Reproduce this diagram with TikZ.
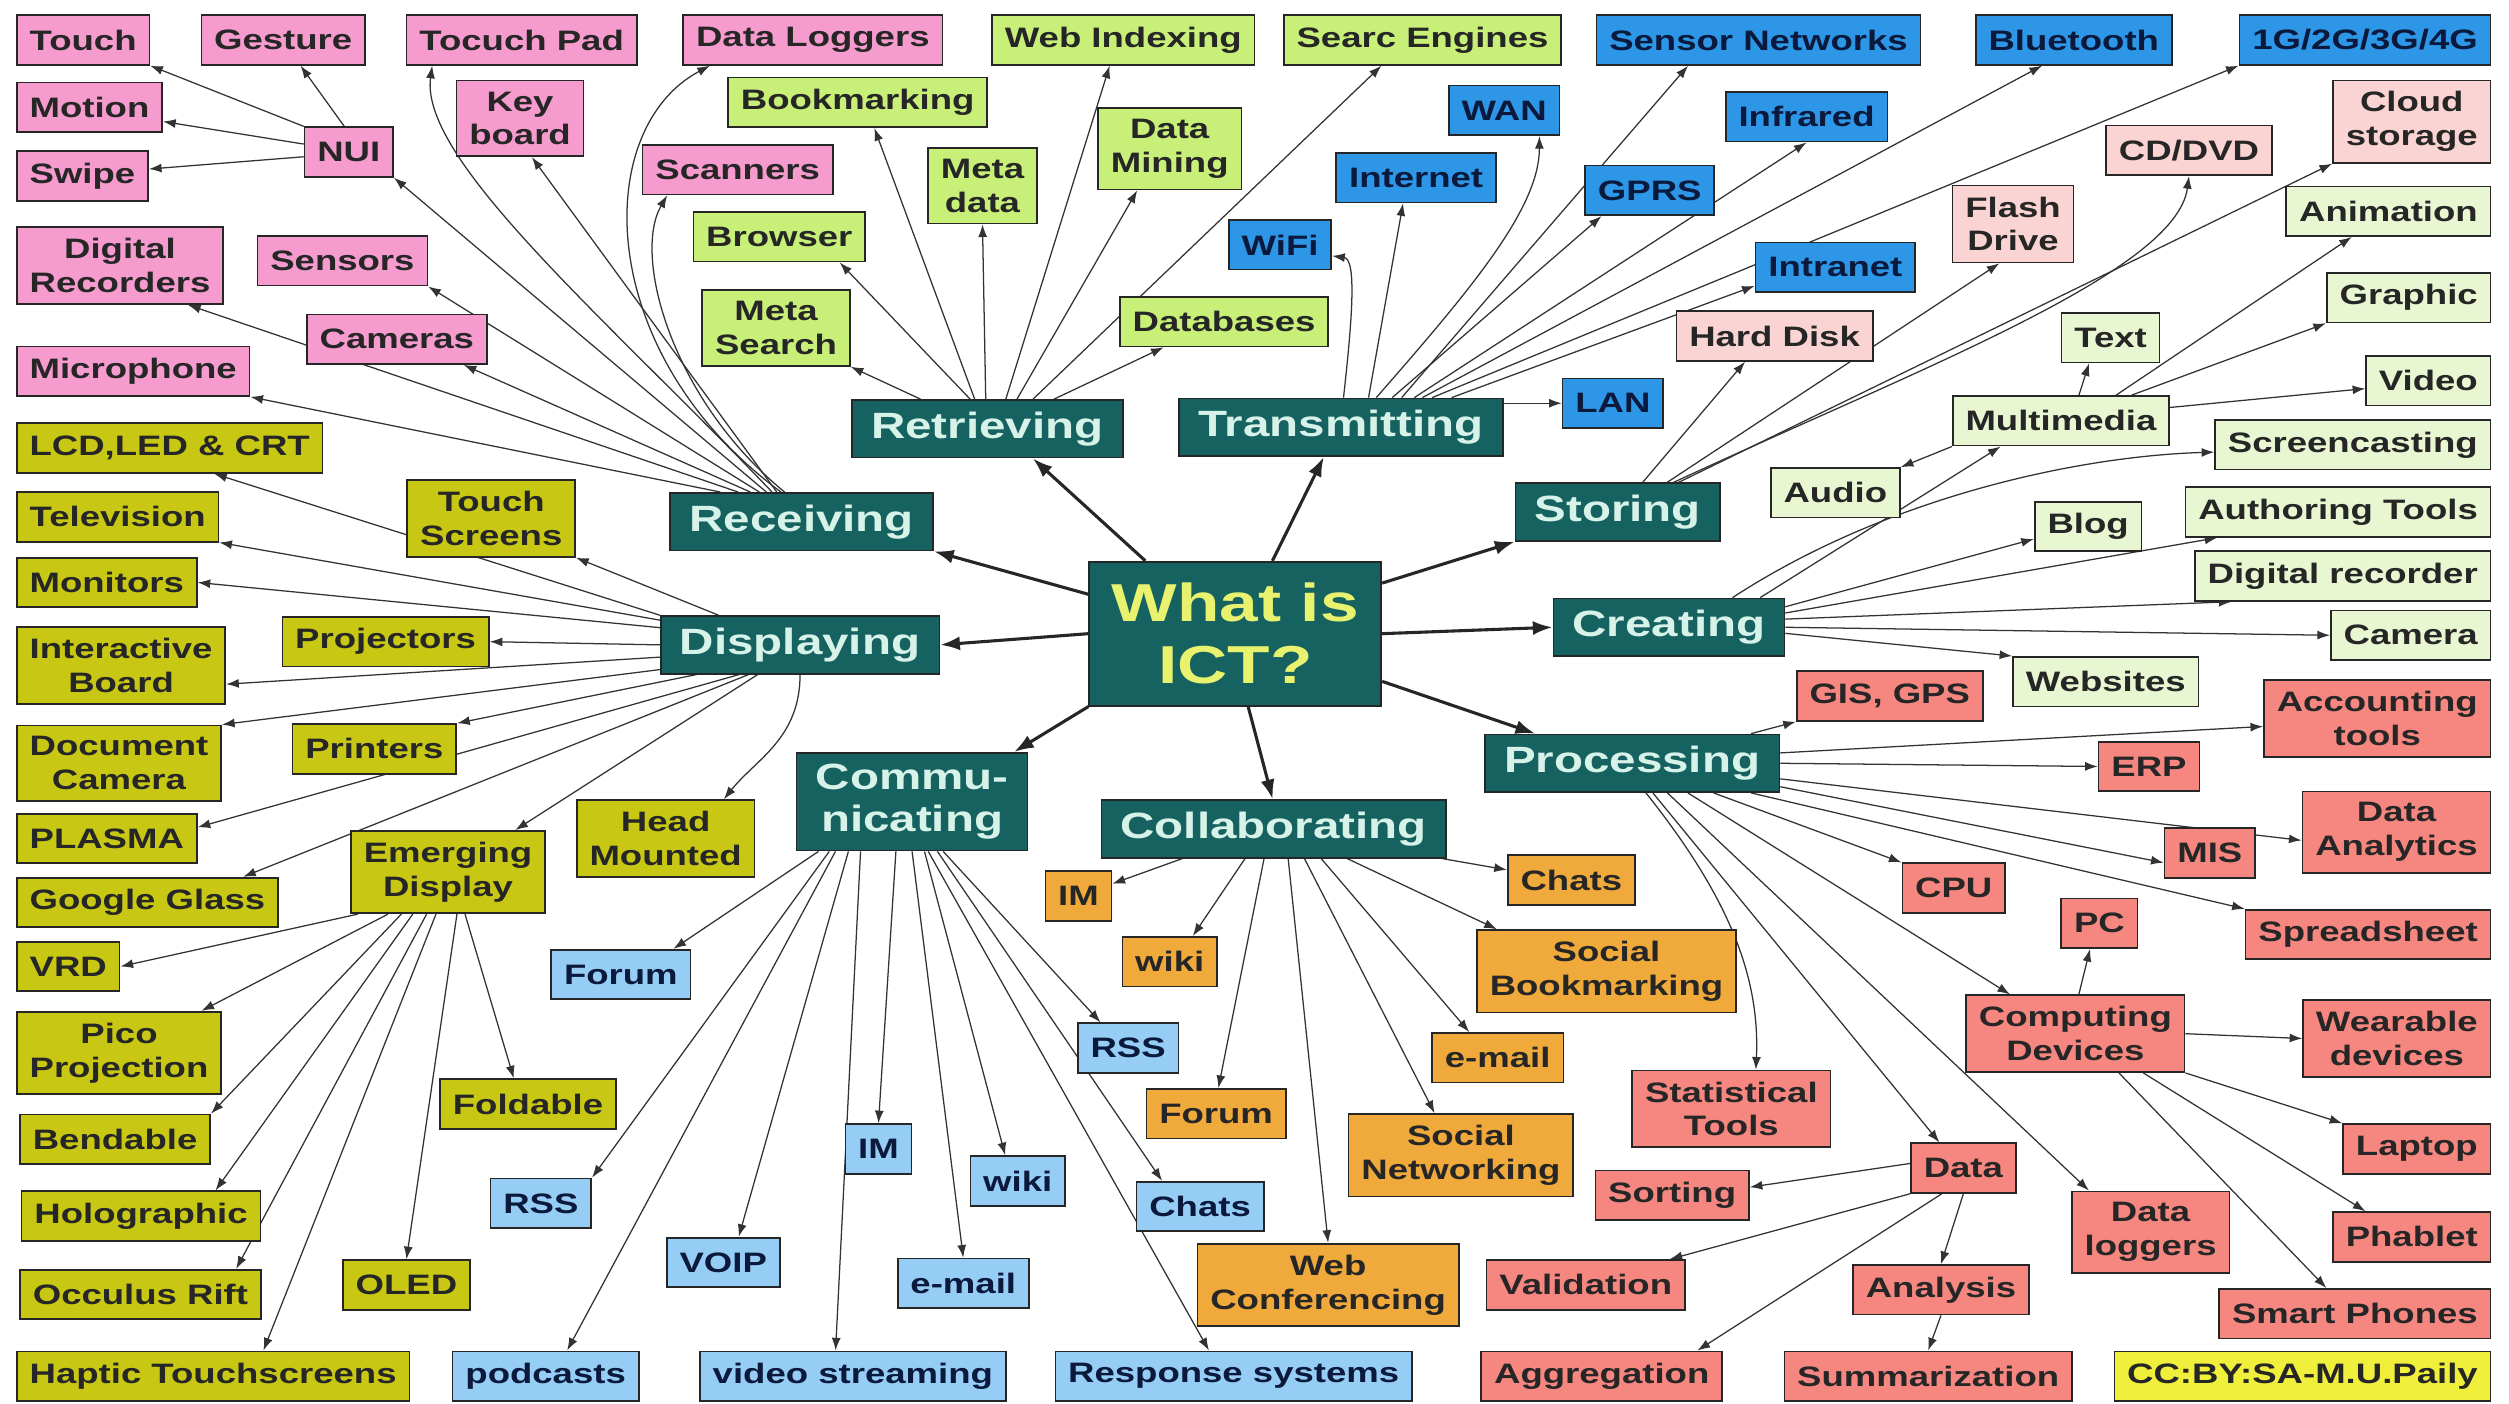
\documentclass[tikz,border=0pt]{standalone}
\usepackage{fontspec}
\setmainfont{Liberation Sans}[FakeStretch=1.3]
\usetikzlibrary{arrows.meta, backgrounds}

\definecolor{hubteal}{RGB}{22,98,96}
\definecolor{hubtext}{RGB}{215,242,232}
\definecolor{icttext}{RGB}{232,242,110}
\definecolor{rcvpink}{RGB}{245,155,205}
\definecolor{retgreen}{RGB}{200,240,120}
\definecolor{trsblue}{RGB}{45,150,230}
\definecolor{stopink}{RGB}{250,212,210}
\definecolor{crepale}{RGB}{232,246,210}
\definecolor{prosalmon}{RGB}{245,135,128}
\definecolor{disolive}{RGB}{200,200,20}
\definecolor{comsky}{RGB}{150,205,245}
\definecolor{colorange}{RGB}{240,170,60}
\definecolor{ccyellow}{RGB}{240,240,60}

\tikzset{
  box/.style={draw=black!85, line width=0.6pt, minimum height=6.2mm,
    inner xsep=1.6mm, inner ysep=1.4mm, align=center, text=black!85,
    font=\bfseries\fontsize{10}{12}\selectfont},
  catbox/.style={box, fill=hubteal, text=hubtext, inner xsep=2.4mm,
    minimum height=7.2mm, font=\bfseries\fontsize{13}{15}\selectfont},
  ictbox/.style={box, fill=hubteal, text=icttext, minimum width=36.5mm,
    minimum height=18mm, font=\bfseries\fontsize{19}{22}\selectfont},
  rcvbox/.style={box, fill=rcvpink},
  retbox/.style={box, fill=retgreen},
  trsbox/.style={box, fill=trsblue, text={rgb,255:red,10;green,25;blue,60}},
  stobox/.style={box, fill=stopink},
  crebox/.style={box, fill=crepale},
  probox/.style={box, fill=prosalmon},
  disbox/.style={box, fill=disolive},
  combox/.style={box, fill=comsky, text={rgb,255:red,10;green,25;blue,60}},
  colbox/.style={box, fill=colorange},
  link/.style={-{Latex[length=4.5pt,width=3.2pt]}, line width=0.45pt, draw=black!80},
  hub/.style={-{Latex[length=7pt,width=5pt]}, line width=1.1pt, draw=black!85},
}

\begin{document}
\begin{tikzpicture}[x=0.02cm, y=-0.02cm]
  \useasboundingbox (0,0) rectangle (1568,877);

  % centre
  \node[ictbox] (ict) at (772,396) {What is\\ICT?};

  % Receiving
  \node[catbox] (receiving) at (501,326) {Receiving};
  \node[rcvbox, anchor=west] (touch) at (10,25) {Touch};
  \node[rcvbox] (gesture) at (177,25) {Gesture};
  \node[rcvbox] (tpad) at (326,25) {Tocuch Pad};
  \node[rcvbox] (dloggers) at (508,25) {Data Loggers};
  \node[rcvbox, anchor=west] (motion) at (10,67) {Motion};
  \node[rcvbox] (nui) at (218,95) {NUI};
  \node[rcvbox] (keyboard) at (325,74) {Key\\board};
  \node[rcvbox, anchor=west] (swipe) at (10,110) {Swipe};
  \node[rcvbox] (scanners) at (461,106) {Scanners};
  \node[rcvbox, anchor=west] (digrec) at (10,166) {Digital\\Recorders};
  \node[rcvbox] (sensors) at (214,163) {Sensors};
  \node[rcvbox] (cameras) at (248,212) {Cameras};
  \node[rcvbox, anchor=west] (microphone) at (10,232) {Microphone};

  % Retrieving
  \node[catbox] (retrieving) at (617,268) {Retrieving};
  \node[retbox] (bookmarking) at (536,64) {Bookmarking};
  \node[retbox] (webidx) at (702,25) {Web Indexing};
  \node[retbox] (searc) at (889,25) {Searc Engines};
  \node[retbox] (metadata) at (614,116) {Meta\\data};
  \node[retbox] (datamining) at (731,93) {Data\\Mining};
  \node[retbox] (browser) at (487,148) {Browser};
  \node[retbox] (metasearch) at (485,205) {Meta\\Search};
  \node[retbox] (databases) at (765,201) {Databases};

  % Transmitting
  \node[catbox] (transmitting) at (838,267) {Transmitting};
  \node[trsbox] (sensornet) at (1099,25) {Sensor Networks};
  \node[trsbox] (bluetooth) at (1296,25) {Bluetooth};
  \node[trsbox, anchor=east] (gnet) at (1557,25) {1G/2G/3G/4G};
  \node[trsbox] (wan) at (940,69) {WAN};
  \node[trsbox] (infrared) at (1129,73) {Infrared};
  \node[trsbox] (internet) at (885,111) {Internet};
  \node[trsbox] (gprs) at (1031,119) {GPRS};
  \node[trsbox] (wifi) at (800,153) {WiFi};
  \node[trsbox] (intranet) at (1147,167) {Intranet};
  \node[trsbox] (lan) at (1008,252) {LAN};

  % Storing
  \node[catbox] (storing) at (1011,320) {Storing};
  \node[stobox] (harddisk) at (1109,210) {Hard Disk};
  \node[stobox] (flash) at (1258,140) {Flash\\Drive};
  \node[stobox] (cddvd) at (1368,94) {CD/DVD};
  \node[stobox, anchor=east] (cloud) at (1557,76) {Cloud\\storage};

  % Creating
  \node[catbox] (creating) at (1043,392) {Creating};
  \node[crebox, anchor=east] (animation) at (1557,132) {Animation};
  \node[crebox, anchor=east] (graphic) at (1557,186) {Graphic};
  \node[crebox] (txt) at (1319,211) {Text};
  \node[crebox] (multimedia) at (1288,263) {Multimedia};
  \node[crebox, anchor=east] (video) at (1557,238) {Video};
  \node[crebox, anchor=east] (screencast) at (1557,278) {Screencasting};
  \node[crebox] (audio) at (1147,308) {Audio};
  \node[crebox] (blog) at (1305,329) {Blog};
  \node[crebox, anchor=east] (authoring) at (1557,320) {Authoring Tools};
  \node[crebox, anchor=east] (digrecorder) at (1557,360) {Digital recorder};
  \node[crebox, anchor=east] (camera) at (1557,397) {Camera};
  \node[crebox] (websites) at (1316,426) {Websites};

  % Processing
  \node[catbox] (processing) at (1020,477) {Processing};
  \node[probox] (gis) at (1181,435) {GIS, GPS};
  \node[probox, anchor=east] (accounting) at (1557,449) {Accounting\\tools};
  \node[probox] (erp) at (1343,479) {ERP};
  \node[probox, anchor=east] (analytics) at (1557,520) {Data\\Analytics};
  \node[probox] (mis) at (1381,533) {MIS};
  \node[probox] (cpu) at (1221,555) {CPU};
  \node[probox] (pc) at (1312,577) {PC};
  \node[probox, anchor=east] (spreadsheet) at (1557,584) {Spreadsheet};
  \node[probox] (computing) at (1297,646) {Computing\\Devices};
  \node[probox, anchor=east] (wearable) at (1557,649) {Wearable\\devices};
  \node[probox] (statistical) at (1082,693) {Statistical\\Tools};
  \node[probox, anchor=east] (laptop) at (1557,718) {Laptop};
  \node[probox] (data) at (1227,730) {Data};
  \node[probox] (sorting) at (1045,747) {Sorting};
  \node[probox] (dataloggers) at (1344,770) {Data\\loggers};
  \node[probox, anchor=east] (phablet) at (1557,773) {Phablet};
  \node[probox] (validation) at (991,803) {Validation};
  \node[probox] (analysis) at (1213,806) {Analysis};
  \node[probox, anchor=east] (smartphones) at (1557,821) {Smart Phones};
  \node[probox] (aggregation) at (1001,860) {Aggregation};
  \node[probox] (summarization) at (1205,860) {Summarization};
  \node[box, fill=ccyellow, anchor=east] (credit) at (1557,860) {CC:BY:SA-M.U.Paily};

  % Displaying
  \node[catbox] (displaying) at (500,403) {Displaying};
  \node[disbox, anchor=west] (lcd) at (10,280) {LCD,LED \& CRT};
  \node[disbox, anchor=west] (television) at (10,323) {Television};
  \node[disbox] (touchscreens) at (307,324) {Touch\\Screens};
  \node[disbox, anchor=west] (monitors) at (10,364) {Monitors};
  \node[disbox] (projectors) at (241,401) {Projectors};
  \node[disbox, anchor=west] (interactive) at (10,416) {Interactive\\Board};
  \node[disbox] (printers) at (234,468) {Printers};
  \node[disbox, anchor=west] (doccamera) at (10,477) {Document\\Camera};
  \node[disbox, anchor=west] (plasma) at (10,524) {PLASMA};
  \node[disbox] (emerging) at (280,545) {Emerging\\Display};
  \node[disbox] (headmounted) at (416,524) {Head\\Mounted};
  \node[disbox, anchor=west] (googleglass) at (10,564) {Google Glass};
  \node[disbox, anchor=west] (vrd) at (10,604) {VRD};
  \node[disbox, anchor=west] (pico) at (10,658) {Pico\\Projection};
  \node[disbox] (foldable) at (330,690) {Foldable};
  \node[disbox, anchor=west] (bendable) at (12,712) {Bendable};
  \node[disbox, anchor=west] (holographic) at (13,760) {Holographic};
  \node[disbox] (oled) at (254,803) {OLED};
  \node[disbox, anchor=west] (occulus) at (12,809) {Occulus Rift};
  \node[disbox, anchor=west] (haptic) at (10,860) {Haptic Touchscreens};

  % Communicating
  \node[catbox] (communicating) at (570,501) {Commu-\\nicating};
  \node[combox] (forum) at (388,609) {Forum};
  \node[combox] (rss) at (338,752) {RSS};
  \node[combox] (voip) at (452,789) {VOIP};
  \node[combox] (podcasts) at (341,860) {podcasts};
  \node[combox] (videostream) at (533,860) {video streaming};
  \node[combox] (imc) at (549,718) {IM};
  \node[combox] (wikic) at (636,738) {wiki};
  \node[combox] (emailc) at (602,802) {e-mail};
  \node[combox] (rssc) at (705,655) {RSS};
  \node[combox] (chatsc) at (750,754) {Chats};
  \node[combox] (response) at (771,860) {Response systems};

  % Collaborating
  \node[catbox] (collaborating) at (796,518) {Collaborating};
  \node[colbox] (imo) at (674,560) {IM};
  \node[colbox] (chatso) at (982,550) {Chats};
  \node[colbox] (wikio) at (731,601) {wiki};
  \node[colbox] (socialbook) at (1004,607) {Social\\Bookmarking};
  \node[colbox] (emailo) at (936,661) {e-mail};
  \node[colbox] (forumo) at (760,696) {Forum};
  \node[colbox] (socialnet) at (913,722) {Social\\Networking};
  \node[colbox] (webconf) at (830,803) {Web\\Conferencing};

  \begin{pgfonlayer}{background}
    \fill[white] (0,0) rectangle (1568,877);

    % centre to the seven verbs
    \draw[hub] (ict.165) -- (receiving.south east);
    \draw[hub] (ict.141) -- (retrieving.-33);
    \draw[hub] (ict.63) -- (transmitting.240);
    \draw[hub] (ict.19) -- (storing.south west);
    \draw[hub] (ict.east) -- (creating.west);
    \draw[hub] (ict.-18) -- (processing.163);
    \draw[hub] (ict.-80) -- (collaborating.92);
    \draw[hub] (ict.south west) -- (communicating.26);
    \draw[hub] (ict.west) -- (displaying.east);

    % Receiving
    \draw[link] (receiving.160) -- (microphone.south east);
    \draw[link] (receiving.155) -- (digrec.-30);
    \draw[link] (receiving.150) -- (cameras.-21);
    \draw[link] (receiving.145) -- (sensors.south east);
    \draw[link] (receiving.140) -- (nui.south east);
    \draw[link] (receiving.135) .. controls (380,200) and (262,100) .. (tpad.196);
    \draw[link] (receiving.130) -- (keyboard.-73);
    \draw[link] (receiving.125) .. controls (370,220) and (370,80) .. (dloggers.194);
    \draw[link] (receiving.120) .. controls (420,250) and (395,160) .. (scanners.200);
    \draw[link] (nui.north west) -- (touch.south east);
    \draw[link] (nui.100) -- (gesture.-56);
    \draw[link] (nui.170) -- (motion.-11);
    \draw[link] (nui.186) -- (swipe.6);

    % Retrieving
    \draw[link] (retrieving.156) -- (metasearch.south east);
    \draw[link] (retrieving.120) -- (browser.-23);
    \draw[link] (retrieving.113) -- (bookmarking.-57);
    \draw[link] (retrieving.93) -- (metadata.south);
    \draw[link] (retrieving.58) -- (webidx.242);
    \draw[link] (retrieving.45) -- (datamining.232);
    \draw[link] (retrieving.33) -- (searc.212);
    \draw[link] (retrieving.24) -- (databases.203);

    % Transmitting
    \draw[link] (transmitting.85) .. controls (845,200) and (848,162) .. (wifi.-12);
    \draw[link] (transmitting.47) -- (internet.243);
    \draw[link] (transmitting.40) .. controls (920,180) and (962,130) .. (wan.-36);
    \draw[link] (transmitting.30) -- (gprs.208);
    \draw[link] (transmitting.26) -- (sensornet.200);
    \draw[link] (transmitting.22) -- (infrared.south);
    \draw[link] (transmitting.20) -- (bluetooth.219);
    \draw[link] (transmitting.18) -- (gnet.south west);
    \draw[link] (transmitting.15) -- (intranet.193);
    \draw[link] (transmitting.east |- lan.west) -- (lan.west);

    % Storing
    \draw[link] (storing.50) -- (harddisk.221);
    \draw[link] (storing.31) -- (flash.251);
    \draw[link] (storing.28) .. controls (1200,230) and (1360,170) .. (cddvd.south);
    \draw[link] (storing.26) -- (cloud.south west);

    % Creating
    \draw[link] (creating.18) -- (multimedia.203);
    \draw[link] (creating.25) .. controls (1180,310) and (1300,285) .. (screencast.183);
    \draw[link] (creating.10) -- (blog.193);
    \draw[link] (creating.7) -- (authoring.192);
    \draw[link] (creating.4) -- (digrecorder.193);
    \draw[link] (creating.0) -- (camera.west);
    \draw[link] (creating.-3) -- (websites.north west);
    \draw[link] (multimedia.55) -- (txt.230);
    \draw[link] (multimedia.25) -- (animation.215);
    \draw[link] (multimedia.20) -- (graphic.south west);
    \draw[link] (multimedia.7) -- (video.187);
    \draw[link] (multimedia.south west) -- (audio.north east);

    % Processing
    \draw[link] (processing.14) -- (gis.south west);
    \draw[link] (processing.4) -- (accounting.184);
    \draw[link] (processing.east) -- (erp.west);
    \draw[link] (processing.-6) -- (analytics.185);
    \draw[link] (processing.-9) -- (mis.192);
    \draw[link] (processing.-14) -- (spreadsheet.north west);
    \draw[link] (processing.-20) -- (cpu.north west);
    \draw[link] (processing.-28) -- (computing.149);
    \draw[link] (processing.-40) -- (dataloggers.146);
    \draw[link] (processing.-55) -- (data.133);
    \draw[link] (processing.-65) .. controls (1080,560) and (1100,610) .. (statistical.58);
    \draw[link] (computing.85) -- (pc.250);
    \draw[link] (computing.east) -- (wearable.west);
    \draw[link] (computing.south east) -- (laptop.north west);
    \draw[link] (computing.-30) -- (phablet.151);
    \draw[link] (computing.-42) -- (smartphones.138);
    \draw[link] (data.175) -- (sorting.6);
    \draw[link] (data.south west) -- (validation.17);
    \draw[link] (data.230) -- (aggregation.15);
    \draw[link] (data.south) -- (analysis.north);
    \draw[link] (analysis.south) -- (summarization.north);

    % Displaying
    \draw[link] (displaying.north west) -- (lcd.-30);
    \draw[link] (displaying.170) -- (television.south east);
    \draw[link] (displaying.173) -- (monitors.east);
    \draw[link] (displaying.160) -- (touchscreens.south east);
    \draw[link] (displaying.west) -- (projectors.east);
    \draw[link] (displaying.185) -- (interactive.-10);
    \draw[link] (displaying.190) -- (doccamera.north east);
    \draw[link] (displaying.196) -- (printers.north east);
    \draw[link] (displaying.206) -- (plasma.7);
    \draw[link] (displaying.210) -- (googleglass.15);
    \draw[link] (displaying.215) -- (emerging.32);
    \draw[link] (displaying.south) .. controls +(0,40) and +(20,-25) .. (headmounted.34);
    \draw[link] (emerging.205) -- (vrd.east);
    \draw[link] (emerging.215) -- (pico.27);
    \draw[link] (emerging.222) -- (bendable.north east);
    \draw[link] (emerging.230) -- (holographic.19);
    \draw[link] (emerging.243) -- (occulus.15);
    \draw[link] (emerging.254) -- (haptic.27);
    \draw[link] (emerging.282) -- (oled.north);
    \draw[link] (emerging.292) -- (foldable.119);

    % Communicating
    \draw[link] (communicating.208) -- (forum.26);
    \draw[link] (communicating.211) -- (rss.north east);
    \draw[link] (communicating.213) -- (podcasts.50);
    \draw[link] (communicating.218) -- (voip.59);
    \draw[link] (communicating.224) -- (videostream.124);
    \draw[link] (communicating.252) -- (imc.north);
    \draw[link] (communicating.270) -- (emailc.north);
    \draw[link] (communicating.-76) -- (wikic.116);
    \draw[link] (communicating.-72) -- (response.134);
    \draw[link] (communicating.-63) -- (chatsc.146);
    \draw[link] (communicating.-58) -- (rssc.137);

    % Collaborating
    \draw[link] (collaborating.198) -- (imo.20);
    \draw[link] (collaborating.226) -- (wikio.48);
    \draw[link] (collaborating.252) -- (forumo.85);
    \draw[link] (collaborating.-64) -- (webconf.north);
    \draw[link] (collaborating.-44) -- (socialnet.122);
    \draw[link] (collaborating.-32) -- (emailo.138);
    \draw[link] (collaborating.-22) -- (socialbook.159);
    \draw[link] (collaborating.-10) -- (chatso.171);
  \end{pgfonlayer}
\end{tikzpicture}
\end{document}
